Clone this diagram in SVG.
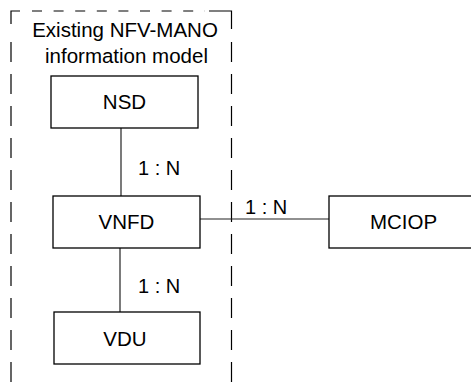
<svg xmlns="http://www.w3.org/2000/svg" width="471" height="387" viewBox="0 0 471 387">
<style>
.box{fill:#fff;stroke:#000;stroke-width:1.3}
.t{font-family:"Liberation Sans",Arial,sans-serif;font-size:20.5px;fill:#000;text-anchor:middle}
.l{font-family:"Liberation Sans",Arial,sans-serif;font-size:20px;fill:#000}
.c{stroke:#222;stroke-width:1.2;fill:none}
.d{stroke:#000;stroke-width:1.2;fill:none}
</style>
<rect width="471" height="387" fill="#fff"/>
<g id="group-boundary">
<path class="d" d="M11,24 V11 H20"/>
<path class="d" d="M32,11 H205" stroke-dasharray="10 11.6"/>
<path class="d" d="M209,11 H231.5 V29"/>
<path class="d" d="M11,42 V387" stroke-dasharray="20 12"/>
<path class="d" d="M231.5,42 V387" stroke-dasharray="20 12"/>
<text class="t" x="125" y="37">Existing NFV-MANO</text>
<text class="t" x="126.5" y="63">information model</text>
</g>
<g id="connectors">
<line class="c" x1="121" y1="128" x2="121" y2="196"/>
<line class="c" x1="120" y1="248" x2="120" y2="312"/>
<line class="c" x1="200" y1="219" x2="329" y2="219"/>
<text class="l" x="138" y="175">1 : N</text>
<text class="l" x="138" y="293">1 : N</text>
<text class="l" x="245" y="214">1 : N</text>
</g>
<g id="NSD">
<rect class="box" x="51" y="76" width="147" height="52"/>
<text class="t" x="124.5" y="109">NSD</text>
</g>
<g id="VNFD">
<rect class="box" x="53" y="196" width="147" height="52"/>
<text class="t" x="126.5" y="229">VNFD</text>
</g>
<g id="VDU">
<rect class="box" x="54" y="312" width="146" height="52"/>
<text class="t" x="125" y="346">VDU</text>
</g>
<g id="MCIOP">
<rect class="box" x="329" y="196" width="149" height="52"/>
<text class="t" x="403.5" y="229">MCIOP</text>
</g>
</svg>
